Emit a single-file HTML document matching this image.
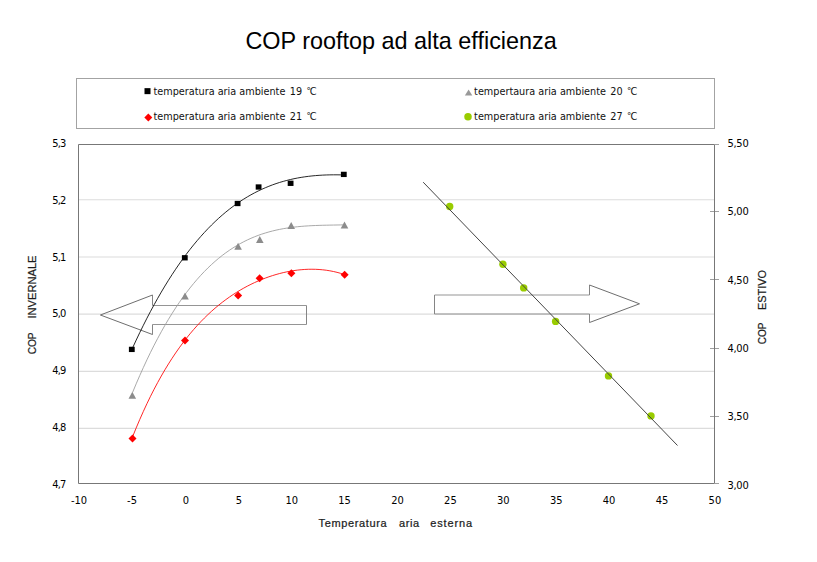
<!DOCTYPE html><html><head><meta charset="utf-8"><title>COP rooftop ad alta efficienza</title><style>html,body{margin:0;padding:0;background:#fff;width:817px;height:562px;overflow:hidden}svg{display:block}text{fill:#000}</style></head><body>
<svg width="817" height="562" viewBox="0 0 817 562">
<rect width="817" height="562" fill="#fff"/>
<text x="245.4" y="48.5" style="font-family:'Liberation Sans',sans-serif;font-size:24.2px" textLength="311.4" lengthAdjust="spacingAndGlyphs">COP rooftop ad alta efficienza</text>
<rect x="76.5" y="78.5" width="638" height="50" fill="none" stroke="#a3a3a3" stroke-width="1"/>
<rect x="144.50" y="88.15" width="6" height="6" fill="#000"/>
<text y="94.6" style="font-family:'DejaVu Sans',sans-serif;font-size:9.7px;fill:#111"><tspan x="153.5">temperatura aria ambiente</tspan><tspan x="289.70">1</tspan><tspan x="296.00">9</tspan><tspan x="306.50" dy="-1" style="font-size:8.5px">°</tspan><tspan x="309.80" dy="1">C</tspan></text>
<polygon points="148.30,113.60 152.30,117.60 148.30,121.60 144.30,117.60" fill="#ff0000"/>
<text y="119.8" style="font-family:'DejaVu Sans',sans-serif;font-size:9.7px;fill:#111"><tspan x="153.5">temperatura aria ambiente</tspan><tspan x="289.70">2</tspan><tspan x="296.00">1</tspan><tspan x="306.50" dy="-1" style="font-size:8.5px">°</tspan><tspan x="309.80" dy="1">C</tspan></text>
<polygon points="468.60,89.40 472.30,95.50 464.90,95.50" fill="#999"/>
<text y="94.6" style="font-family:'DejaVu Sans',sans-serif;font-size:9.7px;fill:#111"><tspan x="474.1">tempertaura aria ambiente</tspan><tspan x="610.30">2</tspan><tspan x="616.60">0</tspan><tspan x="627.10" dy="-1" style="font-size:8.5px">°</tspan><tspan x="630.40" dy="1">C</tspan></text>
<circle cx="468.00" cy="116.65" r="3.75" fill="#99cc00"/>
<text y="119.8" style="font-family:'DejaVu Sans',sans-serif;font-size:9.7px;fill:#111"><tspan x="474.1">temperatura aria ambiente</tspan><tspan x="610.30">2</tspan><tspan x="616.60">7</tspan><tspan x="627.10" dy="-1" style="font-size:8.5px">°</tspan><tspan x="630.40" dy="1">C</tspan></text>
<line x1="79" y1="199.8" x2="714" y2="199.8" stroke="#dcdcdc" stroke-width="1.1"/>
<line x1="79" y1="257.0" x2="714" y2="257.0" stroke="#dcdcdc" stroke-width="1.1"/>
<line x1="79" y1="314.1" x2="714" y2="314.1" stroke="#dcdcdc" stroke-width="1.1"/>
<line x1="79" y1="371.4" x2="714" y2="371.4" stroke="#dcdcdc" stroke-width="1.1"/>
<line x1="79" y1="428.4" x2="714" y2="428.4" stroke="#dcdcdc" stroke-width="1.1"/>
<line x1="710" y1="211.5" x2="719" y2="211.5" stroke="#a0a0a0" stroke-width="1"/>
<line x1="710" y1="279.5" x2="719" y2="279.5" stroke="#a0a0a0" stroke-width="1"/>
<line x1="710" y1="348.5" x2="719" y2="348.5" stroke="#a0a0a0" stroke-width="1"/>
<line x1="710" y1="416.5" x2="719" y2="416.5" stroke="#a0a0a0" stroke-width="1"/>
<line x1="715" y1="144.5" x2="719" y2="144.5" stroke="#a0a0a0" stroke-width="1"/>
<line x1="715" y1="483.5" x2="719" y2="483.5" stroke="#a0a0a0" stroke-width="1"/>
<path d="M78.5,144.5 H714.5 V483.5 H78.5 Z" fill="none" stroke="#777" stroke-width="1"/>
<text x="66.4" y="147.0" text-anchor="end" style="font-family:'DejaVu Sans Condensed',sans-serif;font-size:11px">5<tspan dx="-0.8">,</tspan><tspan dx="-0.8">3</tspan></text>
<text x="66.4" y="203.83" text-anchor="end" style="font-family:'DejaVu Sans Condensed',sans-serif;font-size:11px">5<tspan dx="-0.8">,</tspan><tspan dx="-0.8">2</tspan></text>
<text x="66.4" y="260.66" text-anchor="end" style="font-family:'DejaVu Sans Condensed',sans-serif;font-size:11px">5<tspan dx="-0.8">,</tspan><tspan dx="-0.8">1</tspan></text>
<text x="66.4" y="317.49" text-anchor="end" style="font-family:'DejaVu Sans Condensed',sans-serif;font-size:11px">5<tspan dx="-0.8">,</tspan><tspan dx="-0.8">0</tspan></text>
<text x="66.4" y="374.32" text-anchor="end" style="font-family:'DejaVu Sans Condensed',sans-serif;font-size:11px">4<tspan dx="-0.8">,</tspan><tspan dx="-0.8">9</tspan></text>
<text x="66.4" y="431.15" text-anchor="end" style="font-family:'DejaVu Sans Condensed',sans-serif;font-size:11px">4<tspan dx="-0.8">,</tspan><tspan dx="-0.8">8</tspan></text>
<text x="66.4" y="487.98" text-anchor="end" style="font-family:'DejaVu Sans Condensed',sans-serif;font-size:11px">4<tspan dx="-0.8">,</tspan><tspan dx="-0.8">7</tspan></text>
<text x="727.6" y="147.0" style="font-family:'DejaVu Sans Condensed',sans-serif;font-size:11px">5<tspan dx="-0.4">,</tspan><tspan dx="-0.4">50</tspan></text>
<text x="727.6" y="215.3" style="font-family:'DejaVu Sans Condensed',sans-serif;font-size:11px">5<tspan dx="-0.4">,</tspan><tspan dx="-0.4">00</tspan></text>
<text x="727.6" y="283.6" style="font-family:'DejaVu Sans Condensed',sans-serif;font-size:11px">4<tspan dx="-0.4">,</tspan><tspan dx="-0.4">50</tspan></text>
<text x="727.6" y="351.9" style="font-family:'DejaVu Sans Condensed',sans-serif;font-size:11px">4<tspan dx="-0.4">,</tspan><tspan dx="-0.4">00</tspan></text>
<text x="727.6" y="420.2" style="font-family:'DejaVu Sans Condensed',sans-serif;font-size:11px">3<tspan dx="-0.4">,</tspan><tspan dx="-0.4">50</tspan></text>
<text x="727.6" y="488.5" style="font-family:'DejaVu Sans Condensed',sans-serif;font-size:11px">3<tspan dx="-0.4">,</tspan><tspan dx="-0.4">00</tspan></text>
<text x="79.1" y="503.8" text-anchor="middle" style="font-family:'DejaVu Sans Condensed',sans-serif;font-size:11px">-10</text>
<text x="132.0" y="503.8" text-anchor="middle" style="font-family:'DejaVu Sans Condensed',sans-serif;font-size:11px">-5</text>
<text x="185.9" y="503.8" text-anchor="middle" style="font-family:'DejaVu Sans Condensed',sans-serif;font-size:11px">0</text>
<text x="238.8" y="503.8" text-anchor="middle" style="font-family:'DejaVu Sans Condensed',sans-serif;font-size:11px">5</text>
<text x="291.7" y="503.8" text-anchor="middle" style="font-family:'DejaVu Sans Condensed',sans-serif;font-size:11px">10</text>
<text x="344.6" y="503.8" text-anchor="middle" style="font-family:'DejaVu Sans Condensed',sans-serif;font-size:11px">15</text>
<text x="397.5" y="503.8" text-anchor="middle" style="font-family:'DejaVu Sans Condensed',sans-serif;font-size:11px">20</text>
<text x="450.4" y="503.8" text-anchor="middle" style="font-family:'DejaVu Sans Condensed',sans-serif;font-size:11px">25</text>
<text x="503.3" y="503.8" text-anchor="middle" style="font-family:'DejaVu Sans Condensed',sans-serif;font-size:11px">30</text>
<text x="556.2" y="503.8" text-anchor="middle" style="font-family:'DejaVu Sans Condensed',sans-serif;font-size:11px">35</text>
<text x="609.1" y="503.8" text-anchor="middle" style="font-family:'DejaVu Sans Condensed',sans-serif;font-size:11px">40</text>
<text x="662.0" y="503.8" text-anchor="middle" style="font-family:'DejaVu Sans Condensed',sans-serif;font-size:11px">45</text>
<text x="714.9" y="503.8" text-anchor="middle" style="font-family:'DejaVu Sans Condensed',sans-serif;font-size:11px">50</text>
<text x="318.5" y="527" style="font-family:'Liberation Sans',sans-serif;font-size:11px;font-weight:normal;fill:#1c1c1c;stroke:#1c1c1c;stroke-width:0.22px" textLength="68.1" lengthAdjust="spacing">Temperatura</text>
<text x="399" y="527" style="font-family:'Liberation Sans',sans-serif;font-size:11px;font-weight:normal;fill:#1c1c1c;stroke:#1c1c1c;stroke-width:0.22px" textLength="20.2" lengthAdjust="spacing">aria</text>
<text x="430.2" y="527" style="font-family:'Liberation Sans',sans-serif;font-size:11px;font-weight:normal;fill:#1c1c1c;stroke:#1c1c1c;stroke-width:0.22px" textLength="41.8" lengthAdjust="spacing">esterna</text>
<text transform="translate(36,354.3) rotate(-90)" style="font-family:'Liberation Sans',sans-serif;font-size:11px;font-weight:normal;fill:#1c1c1c;stroke:#1c1c1c;stroke-width:0.22px" textLength="21.9" lengthAdjust="spacingAndGlyphs">COP</text>
<text transform="translate(36,318.6) rotate(-90)" style="font-family:'Liberation Sans',sans-serif;font-size:11px;font-weight:normal;fill:#1c1c1c;stroke:#1c1c1c;stroke-width:0.22px" textLength="63.1" lengthAdjust="spacingAndGlyphs">INVERNALE</text>
<text transform="translate(766,344.3) rotate(-90)" style="font-family:'Liberation Sans',sans-serif;font-size:11px;font-weight:normal;fill:#1c1c1c;stroke:#1c1c1c;stroke-width:0.22px" textLength="21.7" lengthAdjust="spacingAndGlyphs">COP</text>
<text transform="translate(766,310) rotate(-90)" style="font-family:'Liberation Sans',sans-serif;font-size:11px;font-weight:normal;fill:#1c1c1c;stroke:#1c1c1c;stroke-width:0.22px" textLength="40.0" lengthAdjust="spacingAndGlyphs">ESTIVO</text>
<polyline points="152.5,305.5 306.5,305.5" fill="none" stroke="#959595" stroke-width="1"/>
<polyline points="152.5,324.5 306.5,324.5" fill="none" stroke="#959595" stroke-width="1"/>
<polyline points="306.5,305.5 306.5,324.5" fill="none" stroke="#858585" stroke-width="1"/>
<polyline points="152.5,295 152.5,305.5" fill="none" stroke="#858585" stroke-width="1"/>
<polyline points="152.5,324.5 152.5,334.5" fill="none" stroke="#858585" stroke-width="1"/>
<polyline points="152.5,295 100.4,315 152.5,334.5" fill="none" stroke="#6e6e6e" stroke-width="1"/>
<polyline points="434.5,295 589.5,295" fill="none" stroke="#959595" stroke-width="1"/>
<polyline points="434.5,314 589.5,314" fill="none" stroke="#959595" stroke-width="1"/>
<polyline points="434.5,295 434.5,314" fill="none" stroke="#858585" stroke-width="1"/>
<polyline points="589.5,285 589.5,295" fill="none" stroke="#858585" stroke-width="1"/>
<polyline points="589.5,314 589.5,322.5" fill="none" stroke="#858585" stroke-width="1"/>
<polyline points="589.5,285 639.5,303.8 589.5,322.5" fill="none" stroke="#6e6e6e" stroke-width="1"/>
<polyline points="132.60,392.39 136.19,383.79 139.77,375.50 143.36,367.50 146.95,359.79 150.53,352.37 154.12,345.22 157.71,338.35 161.29,331.75 164.88,325.41 168.46,319.33 172.05,313.51 175.64,307.93 179.22,302.59 182.81,297.49 186.40,292.62 189.98,287.98 193.57,283.56 197.16,279.35 200.74,275.35 204.33,271.55 207.92,267.96 211.50,264.55 215.09,261.34 218.67,258.31 222.26,255.45 225.85,252.76 229.43,250.25 233.02,247.89 236.61,245.68 240.19,243.63 243.78,241.72 247.37,239.95 250.95,238.31 254.54,236.81 258.13,235.42 261.71,234.15 265.30,233.00 268.88,231.94 272.47,231.00 276.06,230.14 279.64,229.38 283.23,228.70 286.82,228.10 290.40,227.57 293.99,227.12 297.58,226.72 301.16,226.38 304.75,226.10 308.34,225.86 311.92,225.67 315.51,225.51 319.09,225.38 322.68,225.27 326.27,225.19 329.85,225.11 333.44,225.05 337.03,224.99 340.61,224.93 344.20,224.86" fill="none" stroke="#999" stroke-width="0.85"/>
<polyline points="132.60,436.74 136.19,427.92 139.77,419.48 143.36,411.40 146.95,403.67 150.53,396.28 154.12,389.21 157.71,382.46 161.29,376.01 164.88,369.84 168.46,363.96 172.05,358.34 175.64,352.97 179.22,347.85 182.81,342.97 186.40,338.31 189.98,333.87 193.57,329.64 197.16,325.61 200.74,321.76 204.33,318.11 207.92,314.62 211.50,311.31 215.09,308.16 218.67,305.16 222.26,302.32 225.85,299.61 229.43,297.05 233.02,294.62 236.61,292.32 240.19,290.14 243.78,288.08 247.37,286.14 250.95,284.32 254.54,282.60 258.13,281.00 261.71,279.50 265.30,278.10 268.88,276.81 272.47,275.61 276.06,274.52 279.64,273.53 283.23,272.64 286.82,271.85 290.40,271.16 293.99,270.58 297.58,270.09 301.16,269.72 304.75,269.45 308.34,269.28 311.92,269.24 315.51,269.30 319.09,269.49 322.68,269.80 326.27,270.23 329.85,270.80 333.44,271.50 337.03,272.34 340.61,273.33 344.20,274.48" fill="none" stroke="#ff0000" stroke-width="0.85"/>
<polyline points="132.60,347.85 136.19,340.10 139.77,332.58 143.36,325.29 146.95,318.21 150.53,311.36 154.12,304.72 157.71,298.29 161.29,292.07 164.88,286.06 168.46,280.25 172.05,274.63 175.64,269.22 179.22,263.99 182.81,258.95 186.40,254.10 189.98,249.43 193.57,244.94 197.16,240.63 200.74,236.49 204.33,232.52 207.92,228.71 211.50,225.07 215.09,221.58 218.67,218.26 222.26,215.08 225.85,212.06 229.43,209.18 233.02,206.45 236.61,203.85 240.19,201.39 243.78,199.07 247.37,196.88 250.95,194.81 254.54,192.87 258.13,191.04 261.71,189.34 265.30,187.75 268.88,186.27 272.47,184.89 276.06,183.62 279.64,182.45 283.23,181.38 286.82,180.41 290.40,179.52 293.99,178.72 297.58,178.01 301.16,177.38 304.75,176.83 308.34,176.35 311.92,175.94 315.51,175.60 319.09,175.33 322.68,175.12 326.27,174.96 329.85,174.87 333.44,174.82 337.03,174.82 340.61,174.87 344.20,174.96" fill="none" stroke="#000" stroke-width="0.85"/>
<rect x="128.90" y="346.75" width="5.8" height="5.3" fill="#000"/>
<rect x="181.90" y="255.15" width="5.8" height="5.3" fill="#000"/>
<rect x="234.70" y="200.85" width="5.8" height="5.3" fill="#000"/>
<rect x="255.70" y="184.35" width="5.8" height="5.3" fill="#000"/>
<rect x="287.70" y="180.65" width="5.8" height="5.3" fill="#000"/>
<rect x="340.90" y="171.75" width="5.8" height="5.3" fill="#000"/>
<polygon points="132.30,391.70 136.10,398.70 128.50,398.70" fill="#8c8c8c"/>
<polygon points="185.00,292.50 188.80,299.50 181.20,299.50" fill="#8c8c8c"/>
<polygon points="238.10,242.80 241.90,249.80 234.30,249.80" fill="#8c8c8c"/>
<polygon points="259.80,236.10 263.60,243.10 256.00,243.10" fill="#8c8c8c"/>
<polygon points="291.20,222.00 295.00,229.00 287.40,229.00" fill="#8c8c8c"/>
<polygon points="344.50,221.50 348.30,228.50 340.70,228.50" fill="#8c8c8c"/>
<polygon points="132.50,434.60 136.50,438.60 132.50,442.60 128.50,438.60" fill="#ff0000"/>
<polygon points="185.00,336.50 189.00,340.50 185.00,344.50 181.00,340.50" fill="#ff0000"/>
<polygon points="238.10,291.50 242.10,295.50 238.10,299.50 234.10,295.50" fill="#ff0000"/>
<polygon points="259.60,274.20 263.60,278.20 259.60,282.20 255.60,278.20" fill="#ff0000"/>
<polygon points="291.40,269.30 295.40,273.30 291.40,277.30 287.40,273.30" fill="#ff0000"/>
<polygon points="344.60,270.70 348.60,274.70 344.60,278.70 340.60,274.70" fill="#ff0000"/>
<circle cx="449.70" cy="206.50" r="3.7" fill="#99cc00"/>
<circle cx="502.90" cy="264.30" r="3.7" fill="#99cc00"/>
<circle cx="523.70" cy="287.90" r="3.7" fill="#99cc00"/>
<circle cx="555.60" cy="321.40" r="3.7" fill="#99cc00"/>
<circle cx="608.50" cy="375.90" r="3.7" fill="#99cc00"/>
<circle cx="651.00" cy="415.90" r="3.7" fill="#99cc00"/>
<line x1="423.2" y1="182.2" x2="677.5" y2="445.5" stroke="#444" stroke-width="1"/>
</svg></body></html>
